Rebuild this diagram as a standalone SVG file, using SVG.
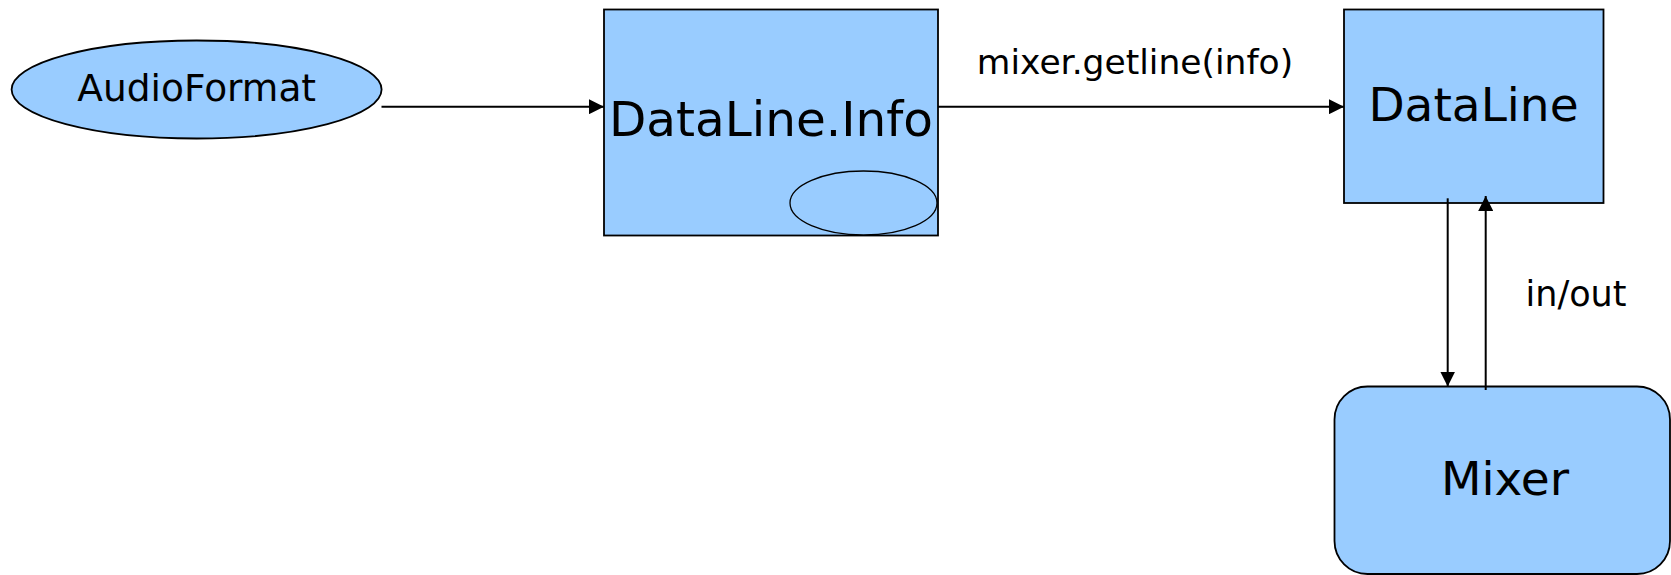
<svg xmlns="http://www.w3.org/2000/svg" width="1671" height="575" viewBox="0 0 1671 575">
<style>
.shape{fill:#99CCFF;stroke:#000;stroke-width:1.8}
.thin{fill:#99CCFF;stroke:#000;stroke-width:1.3}
.lbl{font-family:"DejaVu Sans",Verdana,sans-serif;fill:#000;text-anchor:middle}
.conn{stroke:#000;stroke-width:2;fill:none}
</style>
<defs>
<marker id="arr" viewBox="0 0 15 15" refX="15" refY="7.5" markerWidth="15" markerHeight="15" markerUnits="userSpaceOnUse" orient="auto">
<path d="M0,0 L15,7.5 L0,15 Z" fill="#000"/>
</marker>
</defs>
<rect width="1671" height="575" fill="#fff"/>
<g id="audioformat">
<ellipse class="shape" cx="196.6" cy="89.5" rx="185" ry="49"/>
<text class="lbl" x="196.7" y="100.7" font-size="37.5">AudioFormat</text>
</g>
<g id="datalineinfo">
<rect class="shape" x="604" y="9.5" width="334" height="226"/>
<text class="lbl" x="771" y="136" font-size="48.5">DataLine.Info</text>
<ellipse class="thin" cx="863.5" cy="203" rx="73.5" ry="32"/>
</g>
<g id="dataline">
<rect class="shape" x="1344" y="9.5" width="259.5" height="193.5"/>
<text class="lbl" x="1473.5" y="120.7" font-size="47">DataLine</text>
</g>
<g id="mixer">
<rect class="shape" x="1334.5" y="386.5" width="335.5" height="187.5" rx="33" ry="33"/>
<text class="lbl" x="1505" y="495" font-size="47">Mixer</text>
</g>
<g id="connectors">
<line class="conn" x1="381.5" y1="106.7" x2="604" y2="106.7" marker-end="url(#arr)"/>
<line class="conn" x1="938" y1="106.7" x2="1344" y2="106.7" marker-end="url(#arr)"/>
<text class="lbl" x="1135" y="74" font-size="34.5">mixer.getline(info)</text>
<line class="conn" x1="1447.7" y1="198.3" x2="1447.7" y2="386.5" marker-end="url(#arr)"/>
<line class="conn" x1="1485.7" y1="390" x2="1485.7" y2="196" marker-end="url(#arr)"/>
<text class="lbl" x="1576" y="306" font-size="35">in/out</text>
</g>
</svg>
